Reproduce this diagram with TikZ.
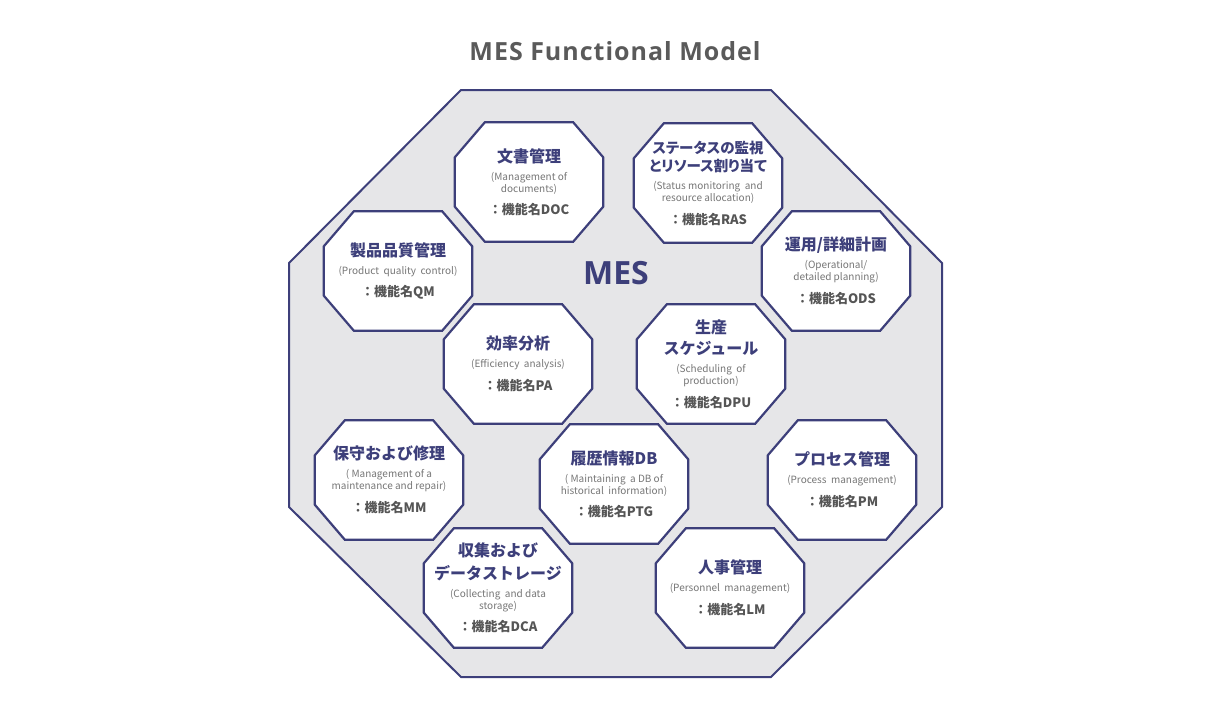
\documentclass[tikz,border=0pt]{standalone}
\usepackage{fontspec}
\usetikzlibrary{backgrounds}
\newfontfamily\cjk{Noto Sans CJK JP}
\newfontfamily\cjkp{Noto Sans CJK JP}[RawFeature=+palt]
\newfontfamily\titlefont{Open Sans}[LetterSpace=4]
\newfontfamily\mesfont{Open Sans}
\definecolor{fnnavy}{HTML}{3D3F7A}
\definecolor{fngray}{HTML}{767676}
\definecolor{idgray}{HTML}{555555}
\definecolor{bgfill}{HTML}{E6E6E8}
\definecolor{titlegray}{HTML}{5A5A5A}
% fonts of the kinds of line in a function box
\newcommand{\fnjp}{\lineskiplimit=-50pt\relax\cjk\bfseries\fontsize{16}{13}\selectfont\color{fnnavy}}
\newcommand{\fnjps}{\lineskiplimit=-50pt\relax\cjkp\bfseries\fontsize{14.5}{13}\selectfont\color{fnnavy}}
\newcommand{\fnen}{\lineskiplimit=-50pt\relax\cjk\fontsize{10}{13}\selectfont\color{fngray}}
\newcommand{\fnid}{\lineskiplimit=-50pt\relax\cjk\bfseries\fontsize{13}{13}\selectfont\color{idgray}}
\newcommand{\fntext}[3]{\fnjp #1\\[6pt]\fnen #2\\[8pt]\fnid ：機能名#3}
\begin{document}
\begin{tikzpicture}[x=1pt,y=-1pt,
    fnbox/.style={rectangle, minimum width=148pt, minimum height=119pt,
      inner sep=0pt, align=center},
    fnline/.style={draw=fnnavy, line width=2.2pt, fill=white, line join=miter},
    bigline/.style={draw=fnnavy, line width=2pt, fill=bgfill}]
  \useasboundingbox (0,0) rectangle (1231,720);
  \node (title) at (615,51) {\titlefont\bfseries\fontsize{25}{28}\selectfont\color{titlegray}MES Functional Model};
  \node (mes) at (616,273) {\mesfont\bfseries\fontsize{32}{34}\selectfont\color{fnnavy}MES};

  \node[fnbox] (doc) at (529,182) {\fntext{文書管理}{(Management of\\\fnen documents)}{DOC}};
  \node[fnbox] (ras) at (708,183) {\fntext{\fnjps ステータスの監視\\[4pt]\fnjps とリソース割り当て}{(Status monitoring\ \ and\\\fnen resource allocation)}{RAS}};
  \node[fnbox] (qm) at (398,271) {\fntext{製品品質管理}{(Product\ \ quality\ \ control)}{QM}};
  \node[fnbox] (ods) at (836,271) {\fntext{運用/詳細計画}{(Operational/\\\fnen detailed planning)}{ODS}};
  \node[fnbox] (pa) at (518,364) {\fntext{効率分析}{(Efficiency\ \ analysis)}{PA}};
  \node[fnbox] (dpu) at (711,364) {\fntext{生産\\[6pt]\fnjp スケジュール}{(Scheduling\ \ of\\\fnen production)}{DPU}};
  \node[fnbox] (mm) at (389,480) {\fntext{保守および修理}{( Management of a\\\fnen maintenance and repair)}{MM}};
  \node[fnbox] (ptg) at (614,484) {\fntext{履歴情報DB}{( Maintaining\ \ a DB of\\\fnen historical\ \ information)}{PTG}};
  \node[fnbox] (pm) at (842,480) {\fntext{プロセス管理}{(Process\ \ management)}{PM}};
  \node[fnbox] (dca) at (498,588) {\fntext{収集および\\[6pt]\fnjp データストレージ}{(Collecting\ \ and data\\\fnen storage)}{DCA}};
  \node[fnbox] (lm) at (730,588) {\fntext{人事管理}{(Personnel\ \ management)}{LM}};

  \begin{scope}[on background layer]
    \draw[bigline] (461,90) -- (771,90) -- (942,263) -- (942,507) -- (771,677) -- (461,677) -- (289,507) -- (289,263) -- cycle;
    % octagon outline of each function box
    \foreach \n in {doc,ras,qm,ods,pa,dpu,mm,ptg,pm,dca,lm}
      \draw[fnline] ([xshift=30pt]\n.north west) -- ([xshift=-30pt]\n.north east)
        -- ([yshift=-35pt]\n.north east) -- ([yshift=35pt]\n.south east)
        -- ([xshift=-30pt]\n.south east) -- ([xshift=30pt]\n.south west)
        -- ([yshift=35pt]\n.south west) -- ([yshift=-35pt]\n.north west) -- cycle;
  \end{scope}
\end{tikzpicture}
\end{document}
